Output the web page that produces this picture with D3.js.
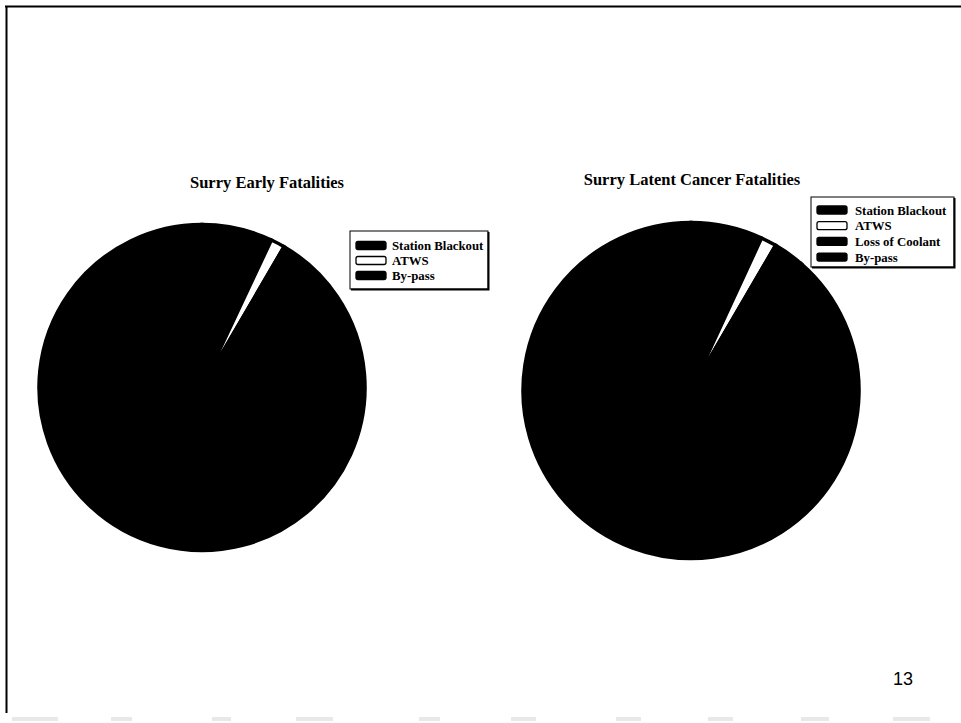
<!DOCTYPE html>
<html>
<head>
<meta charset="utf-8">
<script src="https://cdn.jsdelivr.net/npm/d3@7/dist/d3.min.js"></script>
<style>
  html, body { margin: 0; padding: 0; background: #fff; }
  svg { display: block; }
</style>
</head>
<body>
<svg id="slide" width="961" height="723"></svg>
<script>
// Share of fatalities by accident class (percent)
const earlyCategories = ["Station Blackout", "ATWS", "By-pass"];
const earlyValues = [7.0, 1.4, 91.6];
const earlyColors = ["#000", "#fff", "#000"];

const latentCategories = ["Station Blackout", "ATWS", "Loss of Coolant", "By-pass"];
const latentValues = [6.9, 1.5, 3.0, 88.6];
const latentColors = ["#000", "#fff", "#000", "#000"];

const chartTitles = ["Surry Early Fatalities", "Surry Latent Cancer Fatalities"];
const pageNumber = "13";

const svg = d3.select("#slide");
const W = 961, H = 723;

// slide frame: top and left rules, faint dashed bottom edge
svg.append("line").attr("x1", 5).attr("x2", W).attr("y1", 6.5).attr("y2", 6.5)
  .attr("stroke", "#000").attr("stroke-width", 2.2);
svg.append("line").attr("x1", 6.5).attr("x2", 6.5).attr("y1", 6).attr("y2", 713)
  .attr("stroke", "#000").attr("stroke-width", 2);
const dashSegs = [[12,58],[111,132],[212,231],[296,333],[419,440],[511,536],[616,641],[708,733],[801,829],[893,930]];
svg.append("g").selectAll("rect").data(dashSegs).join("rect")
  .attr("x", d => d[0]).attr("width", d => d[1] - d[0])
  .attr("y", 717).attr("height", 4).attr("fill", "#e8e8e8");

const panels = [
  { cats: earlyCategories, vals: earlyValues, cols: earlyColors, title: chartTitles[0],
    cx: 202, cy: 387.5, r: 163, tx: 267, ty: 188,
    legend: { x: 350, y: 231, w: 138, h: 58, sx: 356, tx: 392, y0: 245.5, step: 15 } },
  { cats: latentCategories, vals: latentValues, cols: latentColors, title: chartTitles[1],
    cx: 691, cy: 390.5, r: 168, tx: 692, ty: 185,
    legend: { x: 811, y: 197, w: 143, h: 70, sx: 817, tx: 855, y0: 210, step: 15.7 } }
];

panels.forEach(p => {
  const g = svg.append("g");

  g.append("text")
    .attr("x", p.tx).attr("y", p.ty)
    .attr("text-anchor", "middle")
    .attr("font-family", "'Liberation Serif', 'Times New Roman', serif")
    .attr("font-weight", "bold").attr("font-size", 16.5)
    .text(p.title);

  const pie = d3.pie().sort(null).value(d => d.v).startAngle(0).endAngle(2 * Math.PI);
  const arc = d3.arc().innerRadius(0).outerRadius(p.r);
  const data = p.cats.map((c, i) => ({ c, v: p.vals[i], col: p.cols[i] }));

  g.append("g").attr("transform", `translate(${p.cx},${p.cy})`)
    .selectAll("path").data(pie(data)).join("path")
    .attr("d", arc)
    .attr("fill", d => d.data.col)
    .attr("stroke", "#000").attr("stroke-width", 3.5)
    .attr("stroke-linejoin", "miter");

  // legend box with a heavier right/bottom edge
  const L = p.legend;
  const lg = g.append("g");
  lg.append("rect").attr("x", L.x).attr("y", L.y).attr("width", L.w).attr("height", L.h)
    .attr("fill", "#fff").attr("stroke", "#000").attr("stroke-width", 1);
  lg.append("path")
    .attr("d", `M${L.x + 1},${L.y + L.h + 0.5} H${L.x + L.w + 0.5} V${L.y + 1}`)
    .attr("fill", "none").attr("stroke", "#000").attr("stroke-width", 2);

  const rowY = d3.scaleLinear().domain([0, 1]).range([L.y0, L.y0 + L.step]);
  const rows = lg.selectAll("g.row").data(data).join("g").attr("class", "row")
    .attr("transform", (d, i) => `translate(0,${rowY(i)})`);
  rows.append("rect")
    .attr("x", L.sx).attr("y", -4).attr("width", 30).attr("height", 8)
    .attr("rx", 2).attr("ry", 2)
    .attr("fill", d => d.col).attr("stroke", "#000").attr("stroke-width", 1.3);
  rows.append("text")
    .attr("x", L.tx).attr("y", 4.5)
    .attr("font-family", "'Liberation Serif', 'Times New Roman', serif")
    .attr("font-weight", "bold").attr("font-size", 12.8)
    .text(d => d.c);
});

svg.append("text")
  .attr("x", 893).attr("y", 685)
  .attr("font-family", "'Liberation Sans', Arial, sans-serif")
  .attr("font-size", 18)
  .text(pageNumber);
</script>
</body>
</html>
